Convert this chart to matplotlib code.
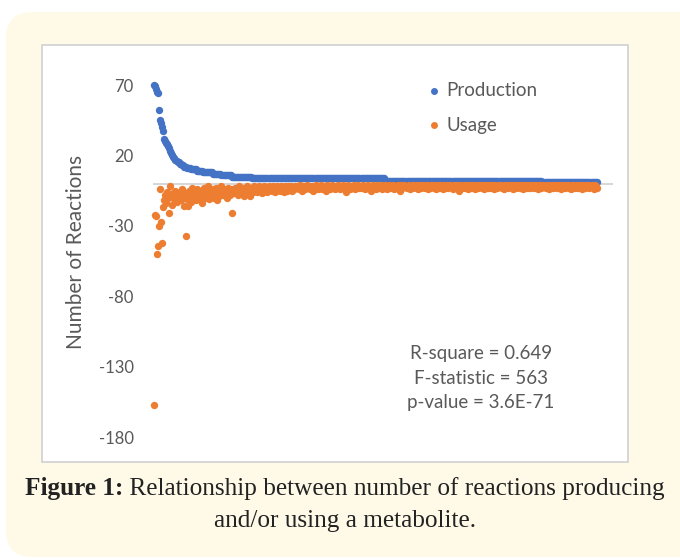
import numpy as np
import matplotlib
matplotlib.use("Agg")
import matplotlib.pyplot as plt
from matplotlib.patches import FancyBboxPatch, Rectangle
from matplotlib.lines import Line2D
from matplotlib.transforms import IdentityTransform
from matplotlib.offsetbox import TextArea, HPacker, AnnotationBbox

# ---------------- data ----------------
production_head = [70, 69, 67, 65, 64, 52, 45, 43, 40, 37, 32, 30, 29, 28, 27, 25, 23, 22,
                   20, 19, 18, 17, 16, 15, 15, 14, 14, 13, 13, 12, 12, 12, 11, 11, 11, 11]
production_tail_values = [10, 9, 8, 7, 6, 5, 4, 2, 1]
production_tail_counts = [6, 6, 10, 8, 10, 20, 130, 154, 54]

usage = [
    -157, -22, -23, -50, -44, -30, -4, -27, -42, -17, -12, -8, -14, -6, -10, -21, -2, -9, -15, -7,
    -11, -5, -13, -8, -10, -6, -12, -4, -9, -16, -7, -37, -11, -16, -5, -8, -13, -3, -10, -6,
    -9, -12, -4, -7, -11, -5, -8, -14, -6, -3, -10, -7, -9, -2, -11, -5, -8, -6, -4, -10,
    -7, -3, -12, -5, -9, -6, -2, -8, -4, -7, -5, -10, -3, -6, -8, -4, -21, -5, -7, -3,
    -6, -4, -8, -2, -5, -7, -3, -6, -9, -4, -5, -2, -7, -3, -9, -5, -4, -6, -2, -5,
    -3, -6, -4, -2, -5, -3, -7, -4, -2, -5, -3, -6, -2, -4, -3, -5, -2, -4, -6, -3,
    -2, -4, -3, -5, -2, -3, -4, -6, -2, -3, -5, -2, -4, -3, -2, -5, -3, -4, -2, -3,
    -3, -2, -4, -1, -3, -5, -2, -3, -4, -2, -1, -3, -2, -4, -3, -2, -5, -3, -1, -2, -4,
    -2, -3, -1, -4, -2, -3, -2, -5, -1, -3, -2, -4, -3, -1, -2, -3, -4, -2, -3, -1, -2,
    -4, -2, -3, -1, -2, -3, -6, -2, -1, -3, -4, -2, -3, -2, -1, -4, -3, -2, -1, -3, -2,
    -3, -1, -2, -4, -2, -3, -1, -2, -3, -5, -2, -1, -3, -2, -4, -1, -2, -3, -2, -1, -4,
    -2, -3, -1, -2, -4, -2, -1, -3, -2, -3, -1, -4, -2, -2, -3, -1, -2, -5, -1, -3, -2,
    -1, -2, -3, -2, -1, -4, -2, -3, -1, -2, -2, -3, -1, -4, -2, -1, -3, -2, -1, -2, -3,
    -2, -1, -4, -2, -3, -1, -2, -1, -3, -2, -4, -1, -2, -3, -1, -2, -2, -4, -1, -3, -2,
    -1, -3, -2, -1, -2, -4, -1, -2, -3, -1, -2, -5, -1, -2, -3, -2, -1, -3, -2, -1, -4,
    -2, -1, -3, -2, -1, -2, -4, -2, -1, -3, -2, -1, -2, -3, -1, -4, -2, -1, -2, -3, -1,
    -3, -2, -1, -2, -4, -1, -2, -3, -1, -2, -1, -3, -2, -4, -1, -2, -1, -3, -2, -1, -2,
    -1, -4, -2, -1, -3, -2, -1, -2, -3, -1, -2, -4, -1, -2, -1, -3, -2, -1, -3, -2, -1,
    -2, -3, -1, -2, -1, -4, -2, -1, -3, -2, -1, -2, -3, -1, -2, -4, -1, -2, -1, -3, -2,
    -1, -2, -3, -1, -2, -1, -4, -2, -1, -2, -3, -1, -2, -1, -3, -2, -4, -1, -2, -1, -3,
    -2, -1, -3, -2, -1, -2, -4, -1, -2, -3, -1, -2, -1, -3, -2, -1, -2, -4, -1, -2, -3,
]

y_ticks = [70, 20, -30, -80, -130, -180]
series_names = ["Production", "Usage"]
stats_text = "R-square = 0.649\nF-statistic = 563\np-value = 3.6E-71"
caption_bold = "Figure 1:"
caption_rest = " Relationship between number of reactions producing"
caption_line2 = "and/or using a metabolite."

production = np.concatenate([production_head,
                             np.repeat(production_tail_values, production_tail_counts)])
x_prod = np.arange(1, len(production) + 1)
x_use = np.arange(1, len(usage) + 1)

# ---------------- figure ----------------
W, H = 680, 560
fig = plt.figure(figsize=(W / 100, H / 100), dpi=100)
fig.patch.set_facecolor("white")

def px(x, y):
    return x / W, 1 - y / H

# yellow rounded background
bg = FancyBboxPatch((6, H - 557), 720, 545, boxstyle="round,pad=0,rounding_size=26",
                    transform=IdentityTransform(), facecolor="#fffae8", edgecolor="none", zorder=-3)
fig.add_artist(bg)

# chart area box
x0, y0 = px(42, 462)
chart = Rectangle((x0, y0), 586 / W, 417 / H, transform=fig.transFigure,
                  facecolor="white", edgecolor="#d0d0d0", linewidth=1.2, zorder=-2)
fig.add_artist(chart)

BLUE = "#4472C4"
ORANGE = "#ED7D31"
GRAY = "#595959"
FONT = "Lato"
MS = 28

left, bottom = px(153, 437)
ax = fig.add_axes([left, bottom, 460 / W, 352 / H])
ax.set_zorder(1)
ax.set_facecolor("none")
ax.scatter(x_prod, production, s=MS, color=BLUE, linewidths=0, clip_on=False, zorder=3)
ax.scatter(x_use, usage, s=MS, color=ORANGE, linewidths=0, clip_on=False, zorder=4)
ax.axhline(0, color="#d0d0d0", lw=1.2, zorder=1)

ax.set_xlim(0, 450)
ax.set_ylim(-180, 70)
ax.set_yticks(y_ticks)
ax.set_yticklabels([str(t) for t in y_ticks], fontsize=12, color=GRAY, family=FONT)
ax.tick_params(axis="y", length=0, pad=14)
ax.set_xticks([])
for s in ax.spines.values():
    s.set_visible(False)
ax.set_ylabel("Number of Reactions", fontsize=15, color=GRAY, family=FONT)
ax.yaxis.set_label_coords(-0.146, 0.525)

# legend
for (yy, c, name) in [(91, BLUE, series_names[0]), (125, ORANGE, series_names[1])]:
    fx, fy = px(434, yy)
    fig.add_artist(Line2D([fx], [fy], marker="o", markersize=5, color=c, linestyle="none",
                          markeredgewidth=0, transform=fig.transFigure, zorder=5))
    tx, ty = px(446, yy)
    fig.text(tx, ty, name, fontsize=13.5, color=GRAY, family=FONT, ha="left", va="center")

# statistics text
sx, sy = px(481, 378)
fig.text(sx, sy, stats_text, fontsize=13.5, color=GRAY, family=FONT, ha="center", va="center",
         linespacing=1.55, multialignment="center")

# caption
cap_size = 18.2
cap_font = dict(size=cap_size, color="#222222", family="Liberation Serif")
ta1 = TextArea(caption_bold, textprops=dict(cap_font, weight="bold"))
ta2 = TextArea(caption_rest, textprops=cap_font)
pack = HPacker(children=[ta1, ta2], pad=0, sep=0, align="baseline")
ab = AnnotationBbox(pack, px(345, 488), xycoords="figure fraction", frameon=False,
                    box_alignment=(0.5, 0.5), pad=0)
fig.add_artist(ab)
cx, cy = px(345, 521)
fig.text(cx, cy, caption_line2, ha="center", va="center", fontsize=cap_size, color="#222222",
         family="Liberation Serif")

fig.savefig("out.png", dpi=100, facecolor=fig.get_facecolor())
